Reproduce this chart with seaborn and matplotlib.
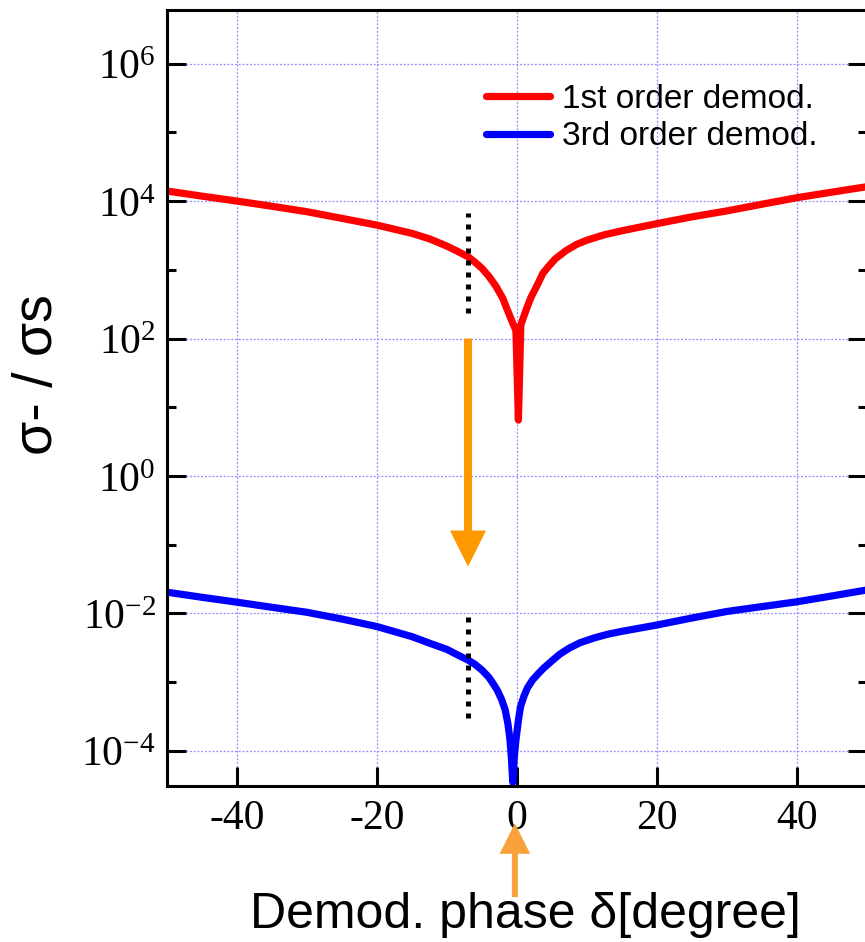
import numpy as np
import pandas as pd
import seaborn as sns
from matplotlib import pyplot as plt
from matplotlib import ticker

# values (x: demod. phase in degree, y: log scale)
first_x = [-50, -45, -40, -35, -30, -25, -20, -15, -12.5, -10, -8.5, -7, -6, -5, -4, -3,
           -2, -1.5, -1.0, -0.5, -0.15, 0.2, 0.55, 1.0, 1.5, 2.0, 2.5, 3.0, 3.7, 4.5, 5.5,
           7, 8.5, 10, 12.5, 15, 20, 25, 30, 35, 40, 45, 50]
first_y = [1.40e4, 1.18e4, 1.0e4, 8.4e3, 7.0e3, 5.6e3, 4.47e3, 3.39e3, 2.82e3, 2.21e3,
           1.86e3, 1.55e3, 1.29e3, 1.05e3, 8.0e2, 5.75e2, 3.8e2, 2.8e2, 2.1e2, 1.58e2,
           1.3e2, 6.5, 1.58e2, 2.14e2, 2.95e2, 3.98e2, 5.0e2, 6.3e2, 8.9e2, 1.12e3,
           1.45e3, 1.9e3, 2.34e3, 2.7e3, 3.24e3, 3.7e3, 4.7e3, 5.9e3, 7.2e3, 9.0e3,
           1.12e4, 1.35e4, 1.62e4]

third_x = [-50, -45, -40, -35, -30, -25, -20, -15, -12.5, -10, -8.5, -7, -6, -5, -4, -3.4,
           -2.8, -2.2, -1.7, -1.3, -1.0, -0.8, -0.6, -0.4, -0.15, 0.2, 0.5, 1.0, 1.5, 2.2,
           3.0, 3.8, 5, 6.1, 7.5, 9, 11, 13, 15, 20, 25, 30, 35, 40, 45, 50]
third_y = [2.04e-2, 1.72e-2, 1.46e-2, 1.23e-2, 1.04e-2, 8.3e-3, 6.45e-3, 4.6e-3, 3.7e-3,
           3.0e-3, 2.5e-3, 2.1e-3, 1.82e-3, 1.5e-3, 1.17e-3, 9.5e-4, 7.6e-4, 5.6e-4,
           4.0e-4, 2.5e-4, 1.45e-4, 7.9e-5, 3.5e-5, 7.9e-5, 1.45e-4, 2.8e-4, 4.4e-4,
           6.3e-4, 8.3e-4, 1.07e-3, 1.32e-3, 1.6e-3, 2.05e-3, 2.55e-3, 3.15e-3, 3.75e-3,
           4.4e-3, 5.0e-3, 5.5e-3, 6.8e-3, 8.6e-3, 1.07e-2, 1.26e-2, 1.48e-2, 1.8e-2, 2.2e-2]

series_names = ["1st order demod.", "3rd order demod."]
series_colors = ["#FF0000", "#0000FF"]

xticks = [-40, -20, 0, 20, 40]
xtick_labels = ["-40", "-20", "0", "20", "40"]
yticks_major = [1e-4, 1e-2, 1e0, 1e2, 1e4, 1e6]
ytick_labels = [r"$10^{-4}$", r"$10^{-2}$", r"$10^{0}$", r"$10^{2}$", r"$10^{4}$", r"$10^{6}$"]
yticks_minor = [1e-3, 1e-1, 1e1, 1e3, 1e5]

# dotted markers and the arrow between the two curves
marker_x = -7.0
upper_dots = (2.35e2, 6.7e3)
lower_dots = (3.0e-4, 9.5e-3)
arrow_from = 1e2
arrow_to = 4.8e-2


def main() -> None:
    sns.set_style("ticks")
    plt.rcParams["font.family"] = ["Liberation Sans", "DejaVu Sans"]
    plt.rcParams["text.color"] = "black"
    plt.rcParams["axes.labelcolor"] = "black"
    plt.rcParams["xtick.color"] = "black"
    plt.rcParams["ytick.color"] = "black"
    plt.rcParams["mathtext.fontset"] = "custom"
    plt.rcParams["mathtext.rm"] = "Liberation Serif"
    plt.rcParams["mathtext.it"] = "Liberation Serif:italic"
    plt.rcParams["mathtext.default"] = "rm"

    df = pd.concat(
        [
            pd.DataFrame({"phase": first_x, "ratio": first_y, "series": series_names[0]}),
            pd.DataFrame({"phase": third_x, "ratio": third_y, "series": series_names[1]}),
        ],
        ignore_index=True,
    )

    fig = plt.figure(figsize=(8.65, 9.42), dpi=100)
    ax = fig.add_axes([167 / 865, 1 - 786 / 942, 700 / 865, 776 / 942])

    sns.lineplot(data=df, x="phase", y="ratio", hue="series", palette=series_colors,
                 hue_order=series_names, linewidth=5.2, ax=ax, legend=False,
                 estimator=None, sort=True)
    for line in ax.lines:
        line.set_solid_joinstyle("round")
        line.set_solid_capstyle("round")
    ax.set_yscale("log")
    ax.set_xlim(-50, 50)
    ax.set_ylim(10 ** -4.51, 10 ** 6.78)

    ax.set_axisbelow(True)
    ax.grid(True, which="major", color="#8C8CFF", linestyle=(0, (1.5, 1.5)), linewidth=0.9)

    ax.xaxis.set_major_locator(ticker.FixedLocator(xticks))
    ax.set_xticklabels(xtick_labels)
    ax.xaxis.set_minor_locator(ticker.NullLocator())
    ax.yaxis.set_major_locator(ticker.FixedLocator(yticks_major))
    ax.yaxis.set_minor_locator(ticker.FixedLocator(yticks_minor))
    ax.yaxis.set_minor_formatter(ticker.NullFormatter())
    ax.set_yticklabels(ytick_labels)

    for lab in ax.get_xticklabels():
        lab.set_fontfamily("Liberation Serif")
    ax.tick_params(axis="both", which="major", direction="in", length=14, width=2.2,
                   labelsize=30, color="black", labelcolor="black")
    ax.tick_params(axis="x", pad=10)
    ax.tick_params(axis="y", pad=8)
    ax.tick_params(axis="y", which="both", right=True)
    ax.tick_params(axis="y", which="minor", direction="in", length=6.5, width=2.2)
    for side in ["left", "right", "top", "bottom"]:
        ax.spines[side].set_linewidth(2.2)
        ax.spines[side].set_color("black")

    ax.set_xlabel("")
    ax.set_ylabel("")

    # dotted vertical markers
    ax.vlines(marker_x, *upper_dots, colors="black", linewidth=3.6, linestyles=(0, (1, 1.4)))
    ax.vlines(marker_x, *lower_dots, colors="black", linewidth=3.6, linestyles=(0, (1, 1.4)))

    ax.annotate("", xy=(marker_x, arrow_to), xytext=(marker_x, arrow_from),
                arrowprops=dict(arrowstyle="simple,head_length=2.6,head_width=2.6,tail_width=0.58",
                                mutation_scale=10, color="#FF9900", shrinkA=0, shrinkB=0,
                                linewidth=0))

    # arrow marking zero phase below the axis
    ax.annotate("", xy=(-0.3, -0.048), xytext=(-0.3, -0.143),
                xycoords=("data", "axes fraction"), textcoords=("data", "axes fraction"),
                arrowprops=dict(arrowstyle="simple,head_length=2.2,head_width=2.2,tail_width=0.43",
                                mutation_scale=10, color="#F9A13A", shrinkA=0, shrinkB=0,
                                linewidth=0),
                annotation_clip=False)

    ax.legend(handles=ax.lines[:2], labels=series_names, loc="upper left",
              bbox_to_anchor=(0.456, 0.905), frameon=False, fontsize=24,
              handlelength=1.9, handletextpad=0.36, labelspacing=0.2, borderpad=0,
              borderaxespad=0)

    fig.text(38 / 865, 1 - 375 / 942, "σ- / σs", rotation=90, ha="center", va="center",
             fontsize=40)
    fig.text(525 / 865, 1 - 915 / 942, "Demod. phase δ[degree]", ha="center", va="center",
             fontsize=36)

    fig.savefig("out.png", dpi=100)
    plt.close(fig)


if __name__ == "__main__":
    main()
